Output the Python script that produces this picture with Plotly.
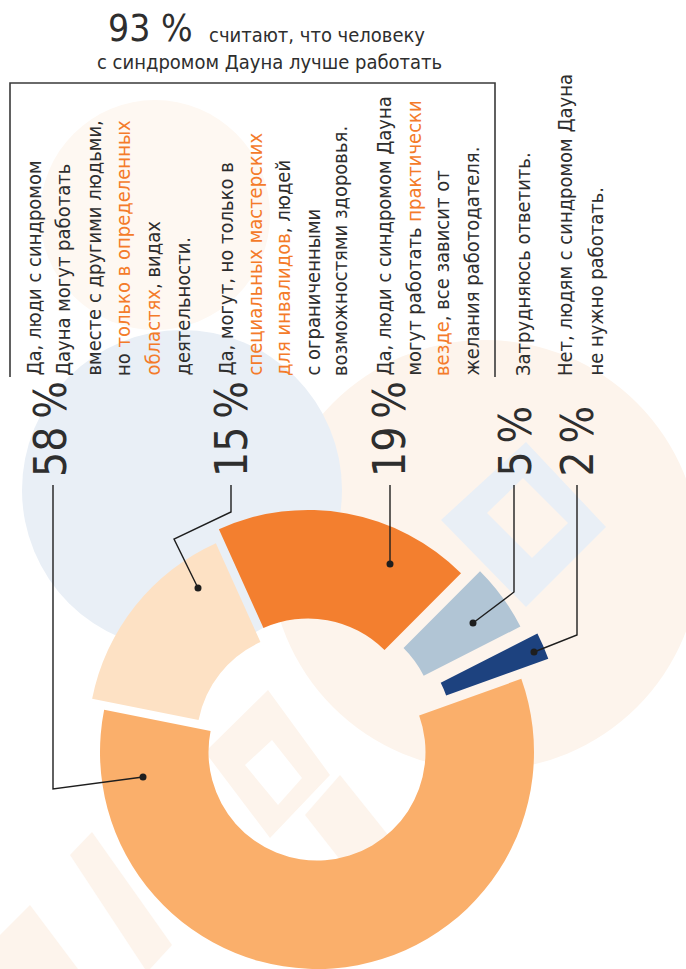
import plotly.graph_objects as go

# ---------------- data ----------------
CATEGORIES = [
    "Да, могут работать вместе с другими людьми, но только в определенных областях",
    "Да, но только в специальных мастерских для инвалидов",
    "Да, могут работать практически везде",
    "Затрудняюсь ответить",
    "Нет, не нужно работать",
]
VALUES = [58, 15, 19, 5, 2]
PCT_LABELS = ["58\u2009%", "15\u2009%", "19\u2009%", "5\u2009%", "2\u2009%"]

TITLE_BIG = "93 %"
TITLE_LINE1 = "считают, что человеку"
TITLE_LINE2 = "с синдромом Дауна лучше работать"

GROUP_LINES = [
    ["Да, люди с синдромом", "Дауна могут работать", "вместе с другими людьми,",
     "но только в определенных", "областях, видах", "деятельности."],
    ["Да, могут, но только в", "специальных мастерских", "для инвалидов, людей",
     "с ограниченными", "возможностями здоровья."],
    ["Да, люди с синдромом Дауна", "могут работать практически",
     "везде, все зависит от", "желания работодателя."],
    ["Затрудняюсь ответить."],
    ["Нет, людям с синдромом Дауна", "не нужно работать."],
]
GROUP_HIGHLIGHTS = [
    ["только в определенных", "областях"],
    ["специальных мастерских", "для инвалидов"],
    ["практически", "везде"],
    [],
    [],
]

# ---------------- style / layout ----------------
W, H = 686, 969
FONT = "DejaVu Sans Condensed, Liberation Sans Narrow, Arial Narrow, sans-serif"
TEXT_COLOR = "#2e2e2e"
HIGHLIGHT_COLOR = "#F47B2A"
SLICE_COLORS = ["#FAAF6B", "#FDE1C4", "#F37F2F", "#B1C5D5", "#1D427F"]
# how far each slice is pushed out of the ring (px, x right / y down)
EXPLODE_PX = [(0, 0), (-12, -11), (-9, -25), (10, -27), (27, -20)]
CENTER = (317, 752)          # donut centre, px
RADIUS = 217                 # outer radius, px
HOLE = 0.5
ROTATION = 70.3              # start of first slice, deg clockwise from 12 o'clock

GROUP_COLUMNS_X = [
    [33, 63, 93, 123, 152, 182],
    [225, 254, 283, 312, 340],
    [383, 413, 442, 471],
    [523],
    [565, 595],
]
TEXT_BOTTOM_Y = 377
TEXT_SIZE = 20
PCT_X = [50, 231, 389, 515, 577]
PCT_BOTTOM_Y = 478
PCT_SIZE = 44

# leader polylines (px) from label to a dot on the slice
LEADERS = [
    [(53, 485), (53, 789), (143, 777)],
    [(231, 485), (231, 512), (174, 539), (198, 588)],
    [(390, 485), (390, 564)],
    [(514, 485), (514, 592), (473, 623)],
    [(577, 485), (577, 635), (534, 652)],
]


def PX(x):
    return x / W


def PY(y):
    return 1 - y / H


fig = go.Figure()

# ---------- donut: one pie trace per slice so exploded slices keep full radius
for i, v in enumerate(VALUES):
    cx = CENTER[0] + EXPLODE_PX[i][0]
    cy = CENTER[1] + EXPLODE_PX[i][1]
    colors = ["rgba(0,0,0,0)"] * len(VALUES)
    colors[i] = SLICE_COLORS[i]
    fig.add_trace(go.Pie(
        values=VALUES,
        labels=CATEGORIES,
        marker=dict(colors=colors, line=dict(width=0)),
        hole=HOLE,
        rotation=ROTATION,
        direction="clockwise",
        sort=False,
        textinfo="none",
        hoverinfo="none",
        showlegend=False,
        domain=dict(
            x=[PX(cx - RADIUS), PX(cx + RADIUS)],
            y=[max(0, PY(cy + RADIUS)), PY(cy - RADIUS)],
        ),
    ))

shapes = []


# ---------- faint watermark background
def circle(cx, cy, r, color):
    return dict(type="circle", xref="paper", yref="paper", layer="below",
                x0=PX(cx - r), x1=PX(cx + r), y0=PY(cy + r), y1=PY(cy - r),
                fillcolor=color, line=dict(width=0))


def poly(points, color, layer="below"):
    path = "M " + " L ".join(f"{PX(x):.5f},{PY(y):.5f}" for x, y in points) + " Z"
    return dict(type="path", xref="paper", yref="paper", layer=layer,
                path=path, fillcolor=color, line=dict(width=0))


PEACH = "#FDF4EC"
BLUE = "#E9EFF6"
shapes.append(circle(155, 215, 115, "#FEF8F2"))
shapes.append(circle(485, 555, 215, PEACH))
shapes.append(circle(182, 490, 160, BLUE))
# blue diamond frame in the peach area
shapes.append(poly([(526, 442), (606, 527), (526, 607), (441, 520)], BLUE))
shapes.append(poly([(487, 513), (523, 478), (568, 523), (532, 558)], PEACH))
# peach watermark lettering
shapes.append(poly([(205, 752), (268, 690), (330, 775), (270, 838)], PEACH))
shapes.append(poly([(245, 765), (272, 740), (302, 778), (278, 805)], "#FFFFFF"))
shapes.append(poly([(305, 815), (340, 775), (388, 835), (352, 875)], PEACH))
shapes.append(poly([(70, 855), (92, 832), (172, 945), (150, 969), (145, 969)], PEACH))
shapes.append(poly([(0, 935), (30, 905), (78, 969), (0, 969)], PEACH))

# ---------- bracket around the explanations
shapes.append(dict(type="path", xref="paper", yref="paper", layer="above",
                   path=f"M {PX(10)},{PY(377)} L {PX(10)},{PY(83)} L {PX(495)},{PY(83)} L {PX(495)},{PY(377)}",
                   line=dict(color="#3a3a3a", width=1.6)))

# ---------- leader lines and dots
for pts in LEADERS:
    path = "M " + " L ".join(f"{PX(x):.5f},{PY(y):.5f}" for x, y in pts)
    shapes.append(dict(type="path", xref="paper", yref="paper", layer="above",
                       path=path, line=dict(color="#1e1e1e", width=1.4)))
    dx, dy = pts[-1]
    shapes.append(dict(type="circle", xref="paper", yref="paper", layer="above",
                       x0=PX(dx - 3.5), x1=PX(dx + 3.5), y0=PY(dy + 3.5), y1=PY(dy - 3.5),
                       fillcolor="#1e1e1e", line=dict(width=0)))

annotations = []

# ---------- title
annotations.append(dict(text=TITLE_BIG, x=PX(195), y=PY(52), xref="paper", yref="paper",
                        xanchor="right", yanchor="bottom", showarrow=False,
                        font=dict(family=FONT, size=37, color=TEXT_COLOR)))
annotations.append(dict(text=TITLE_LINE1, x=PX(207), y=PY(49), xref="paper", yref="paper",
                        xanchor="left", yanchor="bottom", showarrow=False,
                        font=dict(family=FONT, size=20, color=TEXT_COLOR)))
annotations.append(dict(text=TITLE_LINE2, x=PX(269), y=PY(62), xref="paper", yref="paper",
                        xanchor="center", yanchor="middle", showarrow=False,
                        font=dict(family=FONT, size=20, color=TEXT_COLOR)))

# ---------- vertical explanation columns
for lines, highs, xs in zip(GROUP_LINES, GROUP_HIGHLIGHTS, GROUP_COLUMNS_X):
    for line, x in zip(lines, xs):
        txt = line
        for h in highs:
            if h in txt:
                txt = txt.replace(h, f"<span style='color:{HIGHLIGHT_COLOR}'>{h}</span>")
        annotations.append(dict(text=txt, x=PX(x), y=PY(TEXT_BOTTOM_Y), xref="paper", yref="paper",
                                xanchor="center", yanchor="bottom", textangle=-90,
                                showarrow=False, borderpad=0,
                                font=dict(family=FONT, size=TEXT_SIZE, color=TEXT_COLOR)))

# ---------- percentage labels
for lab, x in zip(PCT_LABELS, PCT_X):
    annotations.append(dict(text=lab, x=PX(x), y=PY(PCT_BOTTOM_Y), xref="paper", yref="paper",
                            xanchor="center", yanchor="bottom", textangle=-90,
                            showarrow=False, borderpad=0,
                            font=dict(family=FONT, size=PCT_SIZE, color=TEXT_COLOR)))

fig.update_layout(
    width=W, height=H,
    margin=dict(l=0, r=0, t=0, b=0),
    paper_bgcolor="white", plot_bgcolor="white",
    shapes=shapes, annotations=annotations,
    showlegend=False,
)

fig.write_html("out.html", config={"displayModeBar": False},
               post_script="document.body.style.margin='0px';document.body.style.overflow='hidden';")
